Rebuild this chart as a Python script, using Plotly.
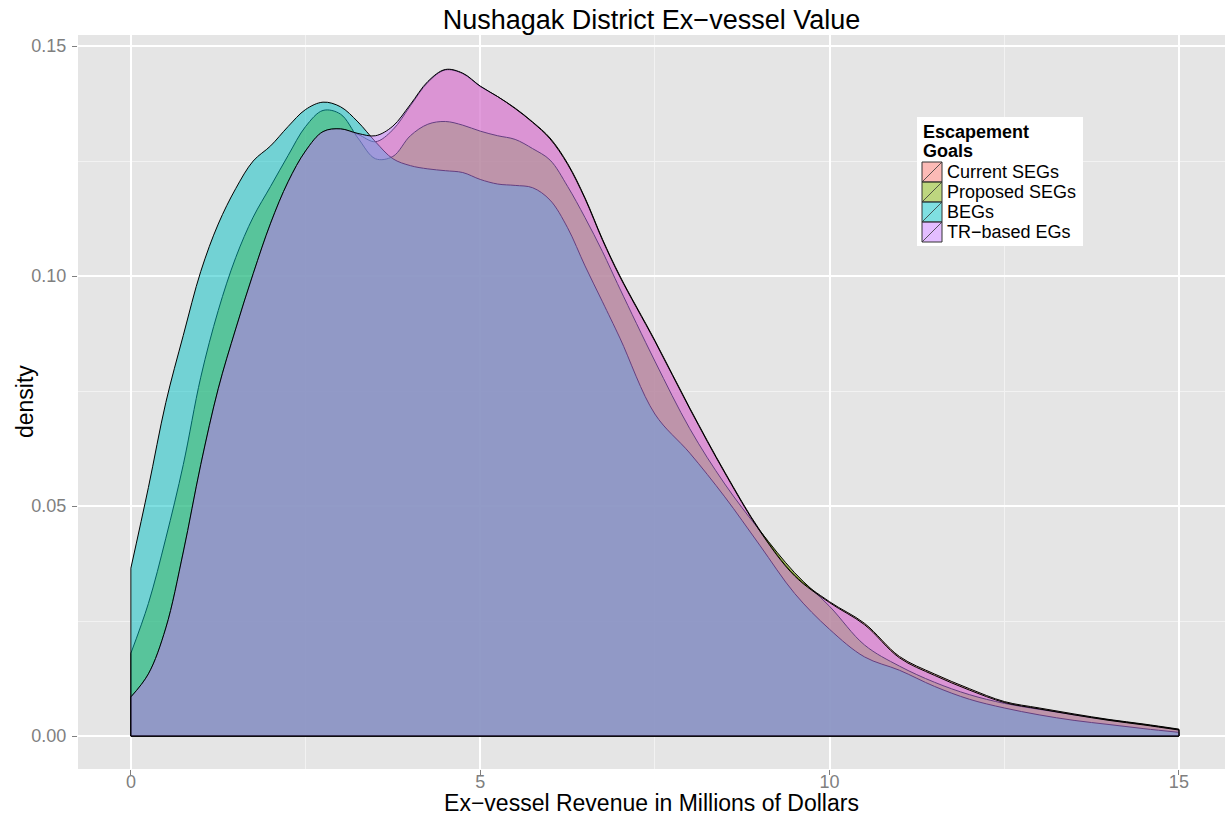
import plotly.graph_objects as go

# ---- data ----
x_vals = [0, 0.25, 0.5, 0.75, 1.0, 1.25, 1.5, 1.75, 2.0, 2.25, 2.5, 2.75, 3.0, 3.25, 3.5, 3.75,
          4.0, 4.25, 4.5, 4.75, 5.0, 5.25, 5.5, 5.75, 6.0, 6.25, 6.5, 6.75, 7.0, 7.5, 8.0, 8.5,
          9.0, 9.5, 10.0, 10.5, 11.0, 11.5, 12.0, 12.5, 13.0, 13.5, 14.0, 14.5, 15.0]

current_segs = [0.0085, 0.0135, 0.0235, 0.0400, 0.0590, 0.0755, 0.0885, 0.1005, 0.1115, 0.1205,
                0.1272, 0.1314, 0.1320, 0.1308, 0.1292, 0.1318, 0.1370, 0.1421, 0.1448, 0.1440,
                0.1412, 0.1390, 0.1365, 0.1335, 0.1300, 0.1245, 0.1170, 0.1080, 0.1000, 0.0860,
                0.0713, 0.0574, 0.0448, 0.0350, 0.0292, 0.0245, 0.0173, 0.0135, 0.0103, 0.0075,
                0.0061, 0.0048, 0.0036, 0.0026, 0.0015]

proposed_segs = [0.0180, 0.0288, 0.0430, 0.0590, 0.0780, 0.0925, 0.1040, 0.1128, 0.1195, 0.1262,
                 0.1325, 0.1360, 0.1352, 0.1300, 0.1255, 0.1260, 0.1305, 0.1330, 0.1336, 0.1328,
                 0.1315, 0.1305, 0.1297, 0.1277, 0.1252, 0.1195, 0.1127, 0.1053, 0.0972, 0.0815,
                 0.0668, 0.0548, 0.0447, 0.0355, 0.0282, 0.0198, 0.0152, 0.0117, 0.0090, 0.0071,
                 0.0058, 0.0046, 0.0035, 0.0025, 0.0014]

begs = [0.0365, 0.0540, 0.0725, 0.0871, 0.1010, 0.1113, 0.1190, 0.1250, 0.1283, 0.1325,
        0.1362, 0.1378, 0.1368, 0.1335, 0.1292, 0.1255, 0.1240, 0.1233, 0.1229, 0.1225,
        0.1210, 0.1200, 0.1197, 0.1192, 0.1165, 0.1105, 0.1022, 0.0944, 0.0865, 0.0700,
        0.0615, 0.0520, 0.0415, 0.0310, 0.0232, 0.0172, 0.0143, 0.0108, 0.0080, 0.0061,
        0.0046, 0.0034, 0.0025, 0.0016, 0.0008]

tr_based = [0.0085, 0.0135, 0.0235, 0.0400, 0.0590, 0.0755, 0.0885, 0.1005, 0.1115, 0.1205,
            0.1272, 0.1314, 0.1320, 0.1310, 0.1305, 0.1326, 0.1373, 0.1423, 0.1449, 0.1441,
            0.1413, 0.1390, 0.1364, 0.1334, 0.1298, 0.1243, 0.1168, 0.1078, 0.0998, 0.0858,
            0.0711, 0.0572, 0.0446, 0.0348, 0.0290, 0.0242, 0.0170, 0.0132, 0.0100, 0.0073,
            0.0059, 0.0046, 0.0034, 0.0024, 0.0013]

series_names = ["Current SEGs", "Proposed SEGs", "BEGs", "TR\u2212based EGs"]
series_values = [current_segs, proposed_segs, begs, tr_based]
series_colors = ["rgba(248,118,109,0.5)", "rgba(124,174,0,0.5)",
                 "rgba(0,191,196,0.5)", "rgba(199,124,255,0.5)"]

x_ticks = [0, 5, 10, 15]
y_ticks = [0.00, 0.05, 0.10, 0.15]

legend_title_lines = ["Escapement", "Goals"]

FONT = "Liberation Sans, Arial, Helvetica, sans-serif"

# ---- layout geometry (pixels) ----
W, H = 1225, 816
L, R, T, B = 78, 0, 35, 47
PW, PH = W - L - R, H - T - B


def px_x(px):
    return (px - L) / PW


def px_y(py):
    return (H - B - py) / PH


fig = go.Figure()
for name, vals, col in zip(series_names, series_values, series_colors):
    fig.add_trace(go.Scatter(
        x=x_vals, y=vals, name=name, mode="lines",
        line=dict(color="black", width=1, shape="spline", smoothing=1.0),
        fill="tozeroy", fillcolor=col, showlegend=False,
    ))
    # closing edges of the density polygon (left side, baseline, right side)
    fig.add_trace(go.Scatter(
        x=[x_vals[0], x_vals[0], x_vals[-1], x_vals[-1]],
        y=[vals[0], 0, 0, vals[-1]],
        mode="lines", line=dict(color="black", width=1),
        showlegend=False, hoverinfo="skip",
    ))

# ---- legend (ggplot style box with square keys) ----
shapes = []
annotations = []
LX0, LX1, LY0, LY1 = 917, 1083, 117, 246
shapes.append(dict(type="rect", xref="paper", yref="paper",
                   x0=px_x(LX0), x1=px_x(LX1), y0=px_y(LY1), y1=px_y(LY0),
                   fillcolor="white", line=dict(width=0), layer="above"))
for i, txt in enumerate(legend_title_lines):
    annotations.append(dict(text="<b>%s</b>" % txt, xref="paper", yref="paper",
                            x=px_x(921), y=px_y(132 + 19 * i), xanchor="left", yanchor="middle",
                            showarrow=False, font=dict(size=18, color="black", family=FONT)))
KEY = 20
for i, (name, col) in enumerate(zip(series_names, series_colors)):
    ky0 = 162 + KEY * i
    shapes.append(dict(type="rect", xref="paper", yref="paper",
                       x0=px_x(922), x1=px_x(922 + KEY), y0=px_y(ky0 + KEY), y1=px_y(ky0),
                       fillcolor=col, line=dict(color="#333333", width=1), layer="above"))
    shapes.append(dict(type="line", xref="paper", yref="paper",
                       x0=px_x(922), x1=px_x(922 + KEY), y0=px_y(ky0 + KEY), y1=px_y(ky0),
                       line=dict(color="#333333", width=0.8), layer="above"))
    annotations.append(dict(text=name, xref="paper", yref="paper",
                            x=px_x(945), y=px_y(ky0 + KEY / 2), xanchor="left", yanchor="middle",
                            showarrow=False, font=dict(size=18, color="black", family=FONT)))

# y axis title, placed like ggplot's
annotations.append(dict(text="density", xref="paper", yref="paper",
                        x=px_x(25), y=0.5, xanchor="center", yanchor="middle", textangle=-90,
                        showarrow=False, font=dict(size=23, color="black", family=FONT)))

fig.update_layout(
    width=W, height=H,
    margin=dict(l=L, r=R, t=T, b=B),
    paper_bgcolor="white", plot_bgcolor="#E5E5E5",
    font=dict(family=FONT, color="black"),
    title=dict(text="Nushagak District Ex\u2212vessel Value", x=0.5, xref="paper",
               xanchor="center", y=1 - 20 / H, yref="container", yanchor="middle",
               font=dict(size=27, color="black", family=FONT)),
    showlegend=False,
    shapes=shapes,
    annotations=annotations,
)

fig.update_xaxes(
    range=[-0.757, 15.66], tickvals=x_ticks, ticktext=[str(v) for v in x_ticks],
    showgrid=True, gridcolor="white", gridwidth=1.5, zeroline=False,
    minor=dict(dtick=2.5, tick0=0, showgrid=True, gridcolor="#F2F2F2", gridwidth=0.8, ticks=""),
    ticks="outside", ticklen=5, tickcolor="#7F7F7F", tickwidth=1,
    tickfont=dict(size=18, color="#7F7F7F", family=FONT), ticklabelstandoff=-9,
    title=dict(text="Ex\u2212vessel Revenue in Millions of Dollars",
               font=dict(size=23, color="black", family=FONT), standoff=2),
    automargin=False, showline=False,
)
fig.update_yaxes(
    range=[-0.00717, 0.1524], tickvals=y_ticks, ticktext=["%.2f" % v for v in y_ticks],
    showgrid=True, gridcolor="white", gridwidth=1.5, zeroline=False,
    minor=dict(dtick=0.025, tick0=0, showgrid=True, gridcolor="#F2F2F2", gridwidth=0.8, ticks=""),
    ticks="outside", ticklen=5, tickcolor="#7F7F7F", tickwidth=1,
    tickfont=dict(size=18, color="#7F7F7F", family=FONT), ticklabelstandoff=2,
    automargin=False, showline=False,
)

fig.write_html("out.html", config={"displayModeBar": False},
               post_script="document.body.style.margin='0';document.body.style.overflow='hidden';")
